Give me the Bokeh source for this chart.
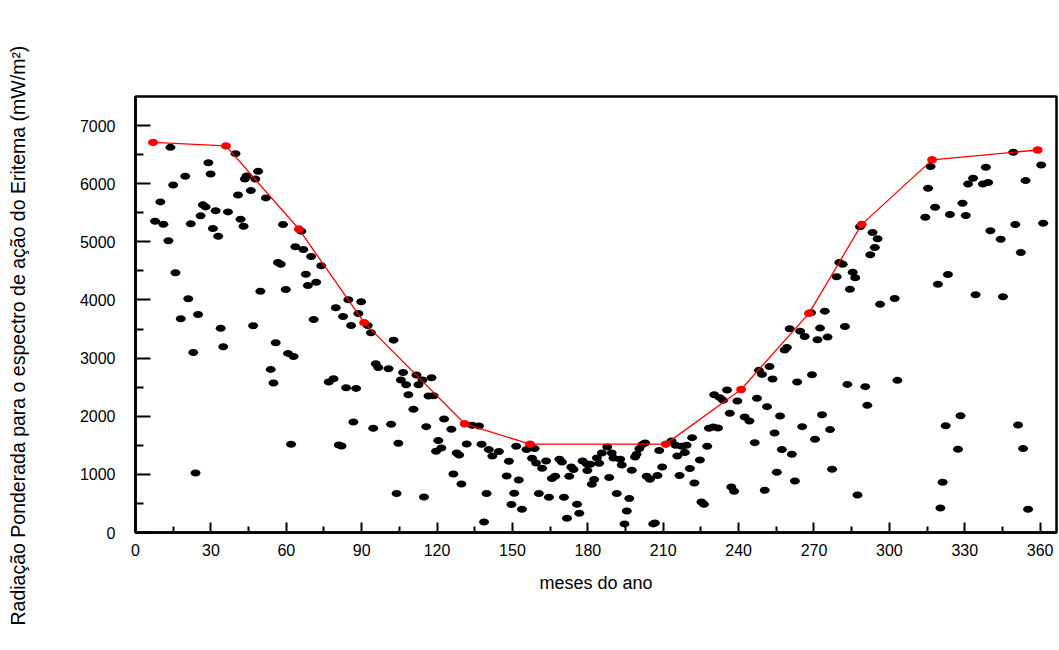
from bokeh.plotting import figure
from bokeh.models import Range1d, FixedTicker, ColumnDataSource, Title
from bokeh.embed import file_html
from bokeh.resources import INLINE

# ---- data (day of year, erythemal weighted radiation mW/m2) ----
day = [13.9, 29, 29.9, 19.8, 15, 39.8, 48.8, 44.2, 43.5, 47.7, 45.9, 40.8, 51.9, 9.9, 26.8, 27.9,
       31.9, 36.8, 25.9, 41.8, 43, 7.8, 11.1, 22, 30.8, 32.9, 13.1, 58.7, 66, 63.6, 66.8, 69.9,
       73.9, 56.7, 57.8, 67.8, 71.9, 68.6, 15.9, 49.7, 59.8, 21, 84.7, 89.8, 79.7, 82.6, 88.7, 18,
       24.9, 70.9,
       33.9, 46.8, 23, 34.9, 55.8, 60.7, 62.9, 53.8, 54.9, 76.9, 78.8, 83.8, 87.8, 85.8, 92.4, 93.7,
       102.7, 95.6, 96.6, 100.7, 106.5, 105.6, 107.7, 111.8, 114.2, 117.8, 112.6, 108.6, 116.6,
       118.6, 110.6, 86.7, 94.6, 101.7, 115.7, 122.8, 120.5, 119.6, 121.7, 61.9, 80.9, 82, 104.6,
       23.9, 103.9, 114.8,
       125.7, 127.8, 128.8, 126.5, 129.7, 134, 136.7, 131.8, 137.7, 140.6, 142, 144.6, 139.7, 138.7,
       148.6, 147.7, 152.5, 150.7, 149.6, 153.8, 151.5, 155.6, 158.8, 157.8, 159.4, 161.8, 163.4,
       160.5, 164.5, 165.7, 167, 168.7, 169.7, 170.5, 171.7, 173.4, 174.3, 172.6, 175.7, 176.6,
       177.9, 179.6, 181, 179.8, 181.6, 182.5, 183.6, 184.5, 185.6, 187.7, 189.5, 190.2, 188.5,
       192.9, 193.5, 191.5, 196.5, 195.5, 194.6, 197.5, 198.8, 199.4, 200.5, 201.7, 202.8, 203.4,
       204.7, 207.7, 206, 206.7, 208.4, 209.6, 213.3, 214.9, 217.3, 219.3, 215.6, 218.6, 221.5,
       220.6, 224.6, 216.5, 222.4, 225.2, 226.2, 227.5, 228.2, 229.9, 231.8, 230.3, 232.5, 233.8,
       235.4, 236.5, 239.5, 242.4, 237.1, 238.2,
       244.3, 246.4, 247.3, 251.3, 248.1, 249.3, 252.3, 253.5, 256.5, 254.3, 257.2, 261.2, 255.2,
       262.4, 250.4, 258.3, 259.2, 260.3, 264.5, 266.3, 263.3, 269.2, 265.3, 270.4, 273.2, 276.4,
       277.2, 271.4, 272.4, 275.4, 274.3, 282.3, 283.3, 290.4, 291.2, 303.2, 287.3, 320.3, 321.2,
       322.4, 328.3, 327.3, 351.2, 353.2, 355.2,
       268.8, 284.3, 279, 285.4, 286.4, 280.1, 281.4, 292.4, 294.2, 295.3, 293.3, 288.3, 296.3,
       302.1, 314.3, 318.2, 315.4, 316.4, 319.3, 323.3, 324.1, 329.1, 330.4, 331.3, 333.3, 337.2,
       339.3, 338.4, 334.3, 345.2, 340.2, 344.3, 350.1, 352.3, 354.2, 349.3, 360.4, 361.2]

radiation = [6625, 6362, 6168, 6127, 5979, 6517, 6213, 6134, 6082, 6082, 5881, 5807, 5756, 5687,
             5636, 5601, 5533, 5515, 5447, 5388, 5268, 5354, 5302, 5309, 5228, 5096, 5017, 5297,
             5182, 4914, 4868, 4747, 4588, 4644, 4615, 4443, 4306, 4249, 4467, 4151, 4180, 4021,
             4003, 3969, 3866, 3716, 3768, 3677, 3751, 3665,
             3515, 3557, 3098, 3196, 3265, 3081, 3029, 2806, 2570, 2588, 2646, 2491, 2479, 3562,
             3562, 3436, 3309, 2904, 2840, 2818, 2754, 2622, 2543, 2708, 2622, 2663, 2543, 2371,
             2347, 2354, 2119, 1900, 1792, 1861, 1821, 1952, 1581, 1397, 1454, 1517, 1505, 1488,
             1534, 1024, 670, 612,
             1775, 1368, 1333, 1007, 835, 1844, 1832, 1522, 1517, 1426, 1316, 1392, 670, 182,
             1225, 973, 904, 675, 481, 400, 1483, 1426, 1443, 1277, 1196, 1105, 1230, 670, 607,
             928, 967, 1259, 1213, 607, 246, 1127, 1082, 967, 486, 332, 1230, 1179, 1174, 1065,
             830, 911, 1282, 1191, 1368, 1471, 1368, 1282, 945, 1259, 1162, 670, 584, 371, 148,
             1070, 1299, 1345, 1443, 1512, 1540, 967, 916, 979, 148, 165, 1409, 1127, 1574, 1500,
             1483, 1500, 1316, 1375, 1632, 1100, 1247, 979, 852, 526, 486, 1483, 1792, 1814, 1797,
             2371, 2320, 2273, 2450, 2050, 2261, 1986, 784, 710,
             1918, 1546, 2308, 2165, 2789, 2720, 2857, 2639, 2003, 1711, 1426, 1345, 1036, 887,
             727, 3138, 3184, 3505, 3464, 3373, 2588, 2715, 1821, 1603, 2027, 1770, 1088, 3316,
             3516, 3361, 3808, 3545, 2548, 2509, 2187, 2617, 646, 423, 864, 1838, 2010, 1431,
             1849, 1443, 400,
             3780, 4186, 4399, 4478, 4381, 4644, 4615, 4777, 4902, 5052, 5160, 5258, 3928, 4026,
             5423, 5595, 5921, 6294, 4271, 4438, 5469, 5663, 5452, 5996, 6093, 5996, 6019, 6282,
             4089, 4055, 5189, 5045, 5297, 4816, 6053, 6540, 6323, 5320]

# monthly maxima (red envelope)
max_day = [7, 36, 65, 91, 131, 157, 211, 241, 268, 289, 317, 359]
max_radiation = [6710, 6650, 5220, 3610, 1870, 1520, 1520, 2460, 3770, 5300, 6410, 6580]

x_ticks = [0, 30, 60, 90, 120, 150, 180, 210, 240, 270, 300, 330, 360]
x_minor = [15, 45, 75, 105, 135, 165, 195, 225, 255, 285, 315, 345]
y_ticks = [0, 1000, 2000, 3000, 4000, 5000, 6000, 7000]
y_minor = [500, 1500, 2500, 3500, 4500, 5500, 6500]

x_label = "meses do ano"
y_label = "Radiação Ponderada para o espectro de ação do Eritema (mW/m²)"

FONT = "Liberation Sans"
SHIFT = 55  # extra left border, hidden by a negative page margin

p = figure(width=1058 + SHIFT, height=628, output_backend="svg", toolbar_location=None,
           x_range=Range1d(0, 366.5), y_range=Range1d(0, 7500),
           min_border_left=135 + SHIFT, min_border_right=2, min_border_top=96,
           min_border_bottom=96)
p.styles = {"margin-left": f"-{SHIFT}px"}

p.xgrid.visible = False
p.ygrid.visible = False
p.background_fill_color = "white"
p.border_fill_color = "white"
p.outline_line_color = "black"
p.outline_line_width = 2.5

src = ColumnDataSource(dict(d=day, r=radiation))
p.ellipse(x="d", y="r", width=10, height=7, width_units="screen", height_units="screen",
          source=src, fill_color="black", line_color=None)

msrc = ColumnDataSource(dict(d=max_day, r=max_radiation))
p.line(x="d", y="r", source=msrc, line_color="#ff0000", line_width=1.3)
p.ellipse(x="d", y="r", width=10, height=7.5, width_units="screen", height_units="screen",
          source=msrc, fill_color="#ff0000", line_color=None)

# x axis
xa = p.xaxis[0]
xa.ticker = FixedTicker(ticks=x_ticks, minor_ticks=x_minor)
xa.axis_line_width = 2.5
xa.major_tick_in = 10
xa.major_tick_out = 0
xa.minor_tick_in = 6
xa.minor_tick_out = 0
xa.major_tick_line_width = 2
xa.minor_tick_line_width = 2
xa.major_label_standoff = 11
xa.major_label_text_font = FONT
xa.major_label_text_font_size = "16px"
xa.major_label_text_color = "black"
xa.axis_label = x_label
xa.axis_label_text_font = FONT
xa.axis_label_text_font_size = "18px"
xa.axis_label_text_font_style = "normal"
xa.axis_label_text_color = "black"
xa.axis_label_standoff = 14

# y axis
ya = p.yaxis[0]
ya.ticker = FixedTicker(ticks=y_ticks, minor_ticks=y_minor)
ya.axis_line_width = 2.5
ya.major_tick_in = 15
ya.major_tick_out = 0
ya.minor_tick_in = 8
ya.minor_tick_out = 0
ya.major_tick_line_width = 2
ya.minor_tick_line_width = 2
ya.major_label_standoff = 20
ya.major_label_text_font = FONT
ya.major_label_text_font_size = "16px"
ya.major_label_text_color = "black"

# y axis title on the left, starting below the frame like the original
ytitle = Title(text=y_label, align="left", offset=-93, standoff=96,
               text_font=FONT, text_font_size="19.5px", text_font_style="normal",
               text_color="black")
p.add_layout(ytitle, "left")

open("out.html", "w").write(file_html(p, INLINE))
